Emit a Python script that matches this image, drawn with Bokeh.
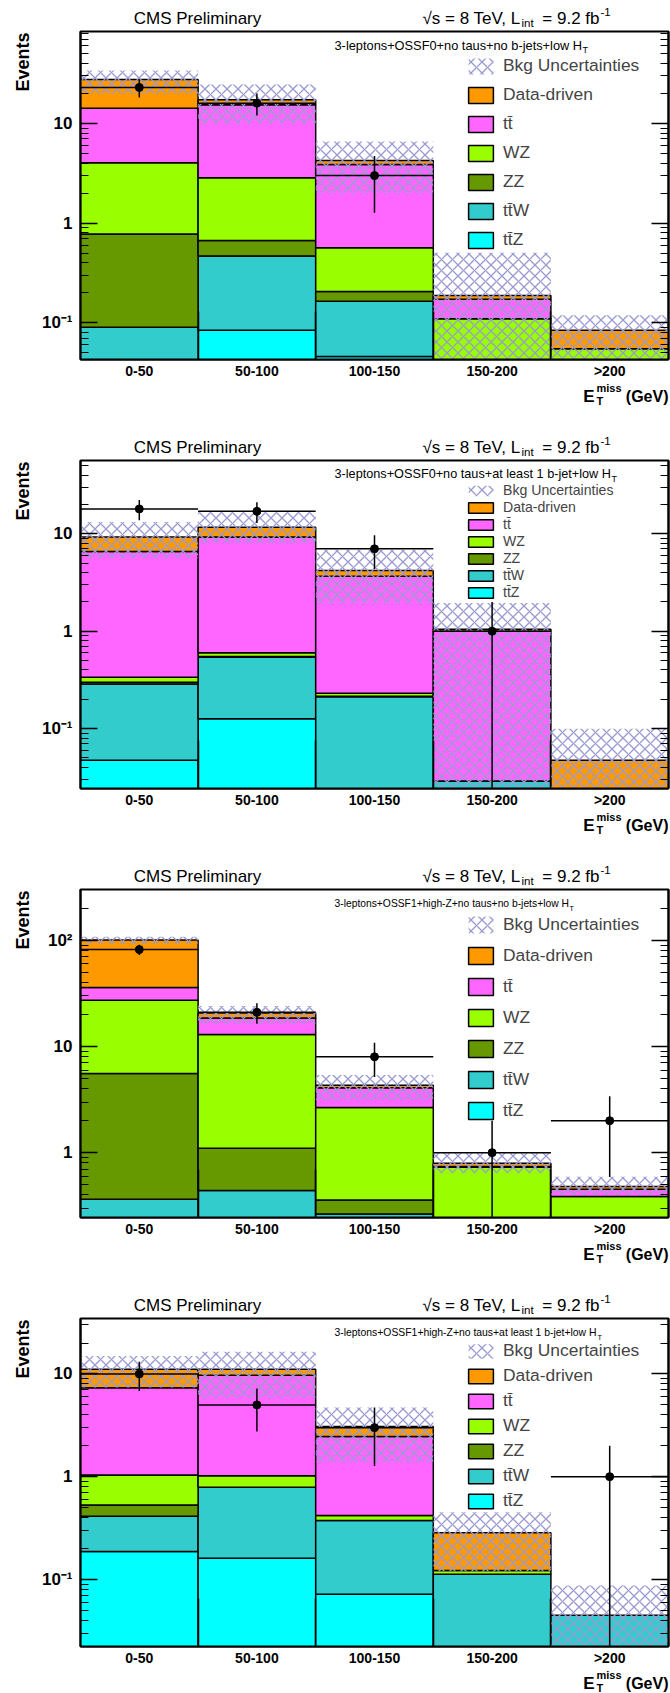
import numpy as np
from bokeh.plotting import figure
from bokeh.models import (Range1d, LogAxis, LinearAxis, FixedTicker, Label, Legend, LegendItem)
from bokeh.core.properties import value
from bokeh.layouts import column, row
from bokeh.embed import file_html
from bokeh.resources import INLINE

bins = ["0-50", "50-100", "100-150", "150-200", ">200"]
legend_labels = ["Bkg Uncertainties", "Data-driven", "tt\u0304", "WZ", "ZZ", "tt\u0304W", "tt\u0304Z"]

# ---- panel 1: 3-leptons+OSSF0+no taus+no b-jets+low HT
ttZ_1 = [0.03, 0.084, 0.046, 0.0, 0.0]
ttW_1 = [0.06, 0.383, 0.118, 0.0, 0.0]
ZZ_1 = [0.69, 0.203, 0.042, 0.0, 0.0]
WZ_1 = [3.25, 2.18, 0.361, 0.11, 0.055]
tt_1 = [10.17, 12.55, 3.31, 0.062, 0.0]
dd_1 = [13.4, 1.9, 0.38, 0.016, 0.029]
unc_lo_1 = [20.0, 10.0, 2.0, 0.0, 0.0]
unc_hi_1 = [34.0, 24.6, 6.6, 0.505, 0.119]
data_1 = [23, 16, 3, 0, 0]
err_1 = [4.8, 4.0, 1.73, 0.0, 0.0]
cat_1 = "3-leptons+OSSF0+no taus+no b-jets+low H"

# ---- panel 2: 3-leptons+OSSF0+no taus+at least 1 b-jet+low HT
ttZ_2 = [0.0475, 0.126, 0.01, 0.0, 0.0]
ttW_2 = [0.24, 0.415, 0.202, 0.029, 0.0]
ZZ_2 = [0.012, 0.009, 0.003, 0.0, 0.0]
WZ_2 = [0.037, 0.05, 0.016, 0.0, 0.0]
tt_2 = [6.26, 8.67, 3.43, 0.971, 0.0]
dd_2 = [2.67, 2.43, 0.53, 0.05, 0.0475]
unc_lo_2 = [5.6, 8.05, 1.95, 0.0, 0.0]
unc_hi_2 = [13.2, 17.0, 6.8, 1.95, 0.1]
data_2 = [18, 17, 7, 1, 0]
err_2 = [4.24, 4.12, 2.65, 1.0, 0.0]
cat_2 = "3-leptons+OSSF0+no taus+at least 1 b-jet+low H"

# ---- panel 3: 3-leptons+OSSF1+high-Z+no taus+no b-jets+low HT
ttZ_3 = [0.1, 0.1, 0.05, 0.0, 0.0]
ttW_3 = [0.264, 0.34, 0.215, 0.0, 0.0]
ZZ_3 = [5.22, 0.66, 0.094, 0.0, 0.0]
WZ_3 = [21.7, 11.9, 2.31, 0.728, 0.386]
tt_3 = [8.7, 5.6, 1.42, 0.012, 0.066]
dd_3 = [65.0, 2.1, 0.24, 0.055, 0.027]
unc_lo_3 = [93.0, 16.5, 3.13, 0.64, 0.4]
unc_hi_3 = [108.0, 24.1, 5.38, 0.99, 0.594]
data_3 = [82, 21, 8, 1, 2]
err_3 = [9.06, 4.58, 2.83, 1.0, 1.41]
cat_3 = "3-leptons+OSSF1+high-Z+no taus+no b-jets+low H"

# ---- panel 4: 3-leptons+OSSF1+high-Z+no taus+at least 1 b-jet+low HT
ttZ_4 = [0.187, 0.161, 0.0715, 0.0, 0.0]
ttW_4 = [0.225, 0.626, 0.3025, 0.112, 0.0447]
ZZ_4 = [0.119, 0.0, 0.0, 0.0, 0.0]
WZ_4 = [0.51, 0.233, 0.044, 0.01, 0.0]
tt_4 = [6.32, 8.68, 2.04, 0.0, 0.0]
dd_4 = [3.74, 1.4, 0.62, 0.162, 0.0]
unc_lo_4 = [7.4, 5.9, 1.38, 0.12, 0.0]
unc_hi_4 = [15.0, 16.5, 4.71, 0.451, 0.0874]
data_4 = [10, 5, 3, 0, 1]
err_4 = [3.16, 2.24, 1.73, 0.0, 1.0]
cat_4 = "3-leptons+OSSF1+high-Z+no taus+at least 1 b-jet+low H"

colors = ["#00ffff", "#33cccc", "#669900", "#99ff00", "#ff66ff", "#ff9900"]  # ttZ, ttW, ZZ, WZ, tt, data-driven
FONT = "Liberation Sans"
SUPS = {0.1: "10\u207b\u00b9", 1.0: "1", 10.0: "10", 100.0: "10\u00b2"}
HATCH = dict(hatch_pattern="diagonal_cross", hatch_color="#9a9ad2", hatch_scale=11, hatch_weight=1.3)

FH = 328          # frame height
MAIN_H = 355      # 3 (top) + 328 + 24 (bottom)
EV_W = 34         # width of the strip holding the "Events" title


def lab(p, x, y, text, size, style="normal", align="left", baseline="alphabetic"):
    p.add_layout(Label(x=x, y=y, x_units="screen", y_units="screen", text=text,
                       text_font=FONT, text_font_size=f"{size:.1f}px", text_font_style=style,
                       text_align=align, text_baseline=baseline, text_color="black"))


def blank(w, h):
    f = figure(width=w, height=h, x_range=Range1d(0, w), y_range=Range1d(0, h),
               x_axis_location=None, y_axis_location=None,
               output_backend="svg", toolbar_location=None, min_border=0)
    f.grid.visible = False
    f.outline_line_color = None
    f.background_fill_color = "white"
    f.border_fill_color = "white"
    return f


def strip(h, et_top=None, title_base=None):
    """Text strip between panels (coordinates in page pixels relative to the strip top)."""
    s = blank(670, h)
    if et_top is not None:
        b = et_top  # offset of the upper frame's bottom relative to the strip top
        lab(s, 594, h - (b + 37), "E", 17, style="bold", align="right")
        lab(s, 596, h - (b + 28), "miss", 11, style="bold")
        lab(s, 596, h - (b + 41.5), "T", 11, style="bold")
        lab(s, 668, h - (b + 37), "(GeV)", 16, style="bold", align="right")
    if title_base is not None:
        t = title_base  # offset of the lower frame's top relative to the strip top
        lab(s, 197, h - (t - 12.7), "CMS Preliminary", 17, align="center")
        lab(s, 520, h - (t - 12.7), "\u221as = 8 TeV, L", 17, align="right")
        lab(s, 521, h - (t - 8.5), "int", 11.5)
        lab(s, 599, h - (t - 12.7), "= 9.2 fb", 17, align="right")
        lab(s, 600, h - (t - 20), "-1", 11.5)
    return s


def events_strip():
    e = blank(EV_W, MAIN_H)
    e.text(x=[22], y=[MAIN_H - 33], text=["Events"], angle=float(np.pi / 2),
           text_align="center", text_baseline="middle", text_font=value(FONT),
           text_font_style="bold", text_font_size="18px", text_color="black")
    return e


def make_panel(comps, unc_lo, unc_hi, data, err, cat, cat_size, t_x, yr, majors, leg):
    p = figure(width=670 - EV_W, height=MAIN_H, x_range=Range1d(0, 5), y_range=Range1d(*yr),
               y_axis_type="log", x_axis_location=None, y_axis_location=None,
               output_backend="svg", toolbar_location=None,
               min_border_left=80 - EV_W, min_border_right=2, min_border_top=3, min_border_bottom=24)
    p.grid.visible = False
    p.outline_line_color = "black"
    p.outline_line_width = 2
    p.background_fill_color = "white"
    p.border_fill_color = "white"
    floor = yr[0] * 0.01

    left = np.arange(5)
    right = left + 1
    base = np.zeros(5)
    rends = []
    for vals, col in zip(comps, colors):
        v = np.array(vals, dtype=float)
        top = base + v
        m = v > 0
        bot = np.where(base > 0, base, floor)
        r = p.quad(left=left[m], right=right[m], bottom=bot[m], top=top[m],
                   fill_color=col, line_color="black", line_width=1.5)
        rends.append(r)
        base = top

    lo = np.array(unc_lo, dtype=float)
    lo = np.where(lo > 0, lo, floor)
    band = p.quad(left=left, right=right, bottom=lo, top=np.array(unc_hi, dtype=float),
                  fill_alpha=0, line_color=None, **HATCH)

    d = np.array(data, dtype=float)
    e = np.array(err, dtype=float)
    m = d > 0
    xc = left + 0.5
    p.segment(x0=left[m], x1=right[m], y0=d[m], y1=d[m], line_color="black", line_width=1.5)
    p.segment(x0=xc[m], x1=xc[m], y0=np.maximum(d[m] - e[m], floor), y1=d[m] + e[m],
              line_color="black", line_width=1.5)
    p.scatter(xc[m], d[m], size=8, color="black")

    minors = [k * 10.0 ** ex for ex in range(-3, 4) for k in range(2, 10)]
    ax_l = LogAxis(ticker=FixedTicker(ticks=majors, minor_ticks=minors),
                   major_label_overrides={t: SUPS[t] for t in majors},
                   major_tick_in=17, major_tick_out=0, minor_tick_in=8, minor_tick_out=0,
                   major_label_standoff=8, major_label_text_font=FONT,
                   major_label_text_font_style="bold", major_label_text_font_size="17px",
                   major_label_text_color="black",
                   axis_line_width=2, major_tick_line_width=1.5, minor_tick_line_width=1.2)
    ax_r = LogAxis(ticker=FixedTicker(ticks=majors, minor_ticks=minors),
                   major_label_overrides={t: "" for t in majors},
                   major_tick_in=17, major_tick_out=0, minor_tick_in=8, minor_tick_out=0,
                   major_label_standoff=0, major_label_text_font_size="1px",
                   major_label_text_alpha=0,
                   axis_line_width=2, major_tick_line_width=1.5, minor_tick_line_width=1.2)
    p.add_layout(ax_l, "left")
    p.add_layout(ax_r, "right")
    ax_t = LinearAxis(ticker=FixedTicker(ticks=[1, 2, 3, 4], minor_ticks=[]),
                      major_label_overrides={t: "" for t in [1, 2, 3, 4]},
                      major_tick_in=48, major_tick_out=0, minor_tick_in=0, minor_tick_out=0,
                      major_label_text_font_size="1px", major_label_text_alpha=0,
                      major_label_standoff=0,
                      axis_line_width=2, major_tick_line_width=1.5)
    ax_b = LinearAxis(ticker=FixedTicker(ticks=list(xc), minor_ticks=[]),
                      major_label_overrides={float(c): b for c, b in zip(xc, bins)},
                      major_tick_in=0, major_tick_out=0, minor_tick_in=0, minor_tick_out=0,
                      axis_line_color=None, major_label_standoff=3, major_label_text_font=FONT,
                      major_label_text_font_style="bold", major_label_text_font_size="14px",
                      major_label_text_color="black")
    p.add_layout(ax_t, "below")
    p.add_layout(ax_b, "below")

    lab(p, 254, FH - 13.5, cat, cat_size)
    lab(p, t_x, FH - 18.5, "T", cat_size * 0.7)

    gh, lh, sp, fs, vy = leg
    order = [band, rends[5], rends[4], rends[3], rends[2], rends[1], rends[0]]
    items = [LegendItem(label=t, renderers=[r]) for t, r in zip(legend_labels, order)]
    lg = Legend(items=items, location=(385, vy), orientation="vertical",
                border_line_color=None, background_fill_alpha=0, padding=0, margin=0,
                glyph_width=31, glyph_height=gh, label_height=lh, label_standoff=7, spacing=sp,
                label_text_font=FONT, label_text_font_size=f"{fs}px")
    p.add_layout(lg)
    return row(events_strip(), p, spacing=0)


r1 = make_panel([ttZ_1, ttW_1, ZZ_1, WZ_1, tt_1, dd_1], unc_lo_1, unc_hi_1, data_1, err_1,
                cat_1, 12.8, 502, (0.0428, 83.8), [0.1, 1.0, 10.0], (20, 20, 8, 17.4, 109))
r2 = make_panel([ttZ_2, ttW_2, ZZ_2, WZ_2, tt_2, dd_2], unc_lo_2, unc_hi_2, data_2, err_2,
                cat_2, 12.7, 531, (0.0243, 56.5), [0.1, 1.0, 10.0], (13, 16, 1, 14.1, 188))
r3 = make_panel([ttZ_3, ttW_3, ZZ_3, WZ_3, tt_3, dd_3], unc_lo_3, unc_hi_3, data_3, err_3,
                cat_3, 10.3, 489, (0.245, 301.8), [1.0, 10.0, 100.0], (21, 21, 10, 17.4, 96))
r4 = make_panel([ttZ_4, ttW_4, ZZ_4, WZ_4, tt_4, dd_4], unc_lo_4, unc_hi_4, data_4, err_4,
                cat_4, 10.4, 517, (0.0222, 34.7), [0.1, 1.0, 10.0], (18, 19, 4, 17.4, 135))

# strips: the frame of the panel above ends 24 px above the strip top; the frame below starts 3 px under it
s0 = strip(28, title_base=31)
s1 = strip(74, et_top=-24, title_base=77)
s2 = strip(74, et_top=-24, title_base=77)
s3 = strip(74, et_top=-24, title_base=77)
s4 = strip(23, et_top=-24)

layout = column(s0, r1, s1, r2, s2, r3, s3, r4, s4, spacing=0)
open("out.html", "w").write(file_html(layout, INLINE))
